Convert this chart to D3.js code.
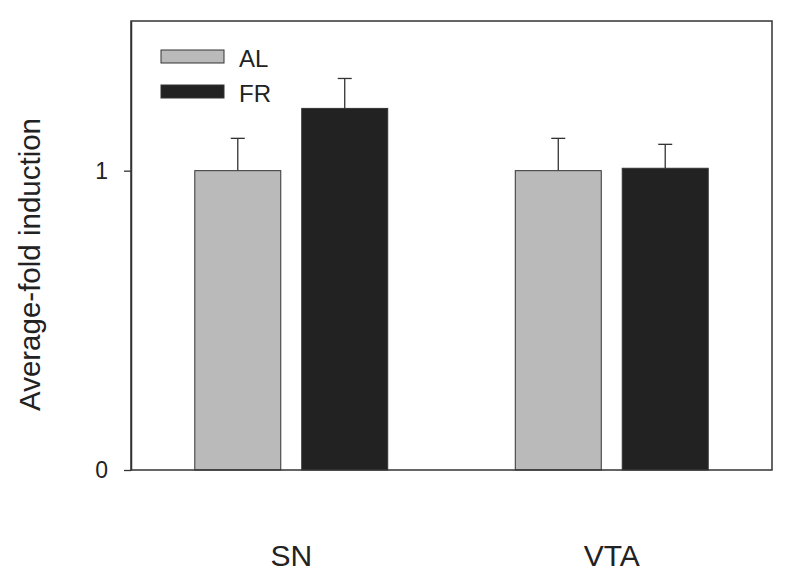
<!DOCTYPE html>
<html><head><meta charset="utf-8">
<script src="https://cdn.jsdelivr.net/npm/d3@7"></script>
<style>body{margin:0;background:#fff;} text{font-family:"Liberation Sans",Arial,sans-serif;fill:#222;}</style>
</head><body>
<svg id="c" width="796" height="581"></svg>
<script>
const categories = ["SN", "VTA"];
const seriesNames = ["AL", "FR"];
const alValues = [1.0, 1.0];
const frValues = [1.208, 1.008];
const alErrors = [0.108, 0.108];
const frErrors = [0.100, 0.080];
const yTicks = [0, 1];
const colors = {AL: "#bababa", FR: "#222222"};

const svg = d3.select("#c");
const m = {left: 131, right: 772, top: 21, bottom: 470};
const y = d3.scaleLinear().domain([0, 1.5]).range([m.bottom, m.top]);
const x0 = d3.scaleBand().domain(categories).range([m.left, m.right]).paddingInner(0.398).paddingOuter(0.199);
const x1 = d3.scaleBand().domain(seriesNames).range([0, x0.bandwidth()]).paddingInner(0.196).paddingOuter(0);

const rows = [];
categories.forEach((c, i) => {
  rows.push({cat: c, s: "AL", v: alValues[i], e: alErrors[i]});
  rows.push({cat: c, s: "FR", v: frValues[i], e: frErrors[i]});
});

const g = svg.append("g");
// error bars (upper only)
rows.forEach(d => {
  const cx = x0(d.cat) + x1(d.s) + x1.bandwidth() / 2;
  g.append("line").attr("x1", cx).attr("x2", cx).attr("y1", y(d.v)).attr("y2", y(d.v + d.e))
    .attr("stroke", "#333").attr("stroke-width", 1.3);
  g.append("line").attr("x1", cx - 7).attr("x2", cx + 7).attr("y1", y(d.v + d.e)).attr("y2", y(d.v + d.e))
    .attr("stroke", "#333").attr("stroke-width", 1.3);
});
g.selectAll("rect.bar").data(rows).enter().append("rect").attr("class", "bar")
  .attr("x", d => x0(d.cat) + x1(d.s)).attr("width", x1.bandwidth())
  .attr("y", d => y(d.v)).attr("height", d => y(0) - y(d.v))
  .attr("fill", d => colors[d.s]).attr("stroke", "#333").attr("stroke-width", 1);

// frame
svg.append("rect").attr("x", m.left).attr("y", m.top).attr("width", m.right - m.left).attr("height", m.bottom - m.top)
  .attr("fill", "none").attr("stroke", "#333").attr("stroke-width", 1.5);

// y axis
const yAxis = d3.axisLeft(y).tickValues(yTicks).tickFormat(d3.format("d")).tickSizeInner(7).tickSizeOuter(0).tickPadding(16);
const ya = svg.append("g").attr("transform", `translate(${m.left},0)`).call(yAxis);
ya.select(".domain").attr("stroke", "#333").attr("stroke-width", 1.5);
ya.selectAll(".tick line").attr("stroke", "#333").attr("stroke-width", 1.3);
ya.selectAll(".tick text").style("font-size", "23px").style("font-family", "Liberation Sans, Arial, sans-serif").attr("fill", "#222");

// x labels
svg.selectAll("text.xl").data(categories).enter().append("text").attr("class", "xl")
  .attr("x", d => x0(d) + x0.bandwidth() / 2).attr("y", 566)
  .attr("text-anchor", "middle").style("font-size", "30px").text(d => d);

// y label
svg.append("text").attr("transform", "translate(40,264.5) rotate(-90)")
  .attr("text-anchor", "middle").style("font-size", "29.5px").text("Average-fold induction");

// legend
const leg = svg.append("g");
seriesNames.forEach((s, i) => {
  const yy = 50 + i * 35;
  leg.append("rect").attr("x", 161).attr("y", yy).attr("width", 63).attr("height", 13)
    .attr("fill", colors[s]).attr("stroke", "#333").attr("stroke-width", 1);
  leg.append("text").attr("x", 239).attr("y", yy + 17).style("font-size", "24px").text(s);
});
</script>
</body></html>
